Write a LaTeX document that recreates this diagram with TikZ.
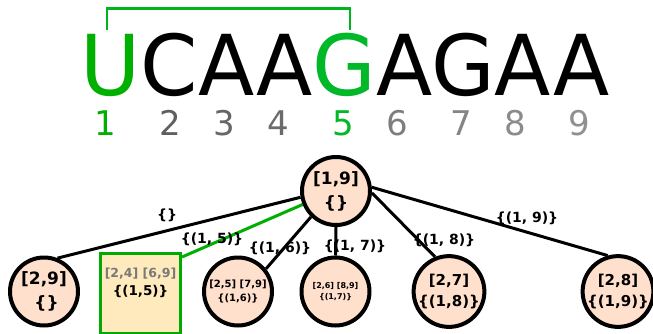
\documentclass[tikz,border=0pt]{standalone}
\usepackage{fontspec}
\setmainfont{DejaVu Sans}
\usetikzlibrary{backgrounds}

\definecolor{greenU}{RGB}{0,176,0}
\definecolor{greenG}{RGB}{0,184,40}
\definecolor{pairgreen}{RGB}{0,180,30}
\definecolor{sqgreen}{RGB}{0,170,0}
\definecolor{peach}{RGB}{255,224,204}
\definecolor{sqfill}{RGB}{255,234,190}
\definecolor{sqgray}{RGB}{120,120,120}
\definecolor{gr2}{RGB}{95,95,95}
\definecolor{gr3}{RGB}{102,102,102}
\definecolor{gr4}{RGB}{107,107,107}
\definecolor{gr6}{RGB}{126,126,126}
\definecolor{gr7}{RGB}{133,133,133}
\definecolor{gr8}{RGB}{139,139,139}
\definecolor{gr9}{RGB}{144,144,144}

\begin{document}
\begin{tikzpicture}[x=1pt,y=-1pt,
  state/.style={circle,draw,line width=4pt,fill=peach,minimum size=68pt,
    inner sep=0pt,align=center},
  big/.style={font=\fontsize{17}{24}\selectfont\bfseries},
  mid/.style={font=\fontsize{15}{21}\selectfont\bfseries},
  small/.style={font=\fontsize{10}{14}\selectfont\bfseries},
  tiny/.style={font=\fontsize{8}{11}\selectfont\bfseries},
  edgelbl/.style={font=\fontsize{14}{16}\selectfont\bfseries,inner sep=0pt},
  link/.style={line width=3pt},
  seqnum/.style={anchor=base,inner sep=0pt,font=\fontsize{34}{34}\selectfont},
  bracket/.style={draw=pairgreen,line width=2.5pt}]
\useasboundingbox (0,0) rectangle (653,333);

% sequence and positions
\node[anchor=base,inner sep=0pt,font=\fontsize{84}{84}\selectfont] (seq) at (345,95)
  {\scalebox{0.978}[1]{\textcolor{greenU}{U}CAA\textcolor{greenG}{G}AGAA}};
\node[seqnum,text=greenU] (n1) at (105,135) {1};
\node[seqnum,text=gr2]    (n2) at (170,135) {2};
\node[seqnum,text=gr3]    (n3) at (224,135) {3};
\node[seqnum,text=gr4]    (n4) at (278,135) {4};
\node[seqnum,text=greenG] (n5) at (343,135) {5};
\node[seqnum,text=gr6]    (n6) at (397,135) {6};
\node[seqnum,text=gr7]    (n7) at (461,135) {7};
\node[seqnum,text=gr8]    (n8) at (515,135) {8};
\node[seqnum,text=gr9]    (n9) at (579,135) {9};

% base pair 1-5
\draw[bracket] (107,30) |- (350,8.5) -- (350,30);

% tree
\node[state,big]   (root) at (336,191) {[1,9]\\\{\}};
\node[state,big]   (c29)  at (44,291.5) {[2,9]\\\hspace*{5pt}\{\}};
\node[rectangle,draw=sqgreen,line width=3pt,fill=sqfill,minimum width=80pt,
  minimum height=80pt,inner sep=0pt] (sq) at (140.5,293.5) {};
\node[align=center,inner sep=0pt,font=\fontsize{12.5}{18}\selectfont\bfseries]
  (sqtext) at (140.5,283)
  {\textcolor{sqgray}{[2,4] [6,9]}\\{\fontsize{13.5}{18}\selectfont\{(1,5)\}}};
\node[state,small] (c25)  at (238,291.5) {[2,5] [7,9]\\\{(1,6)\}};
\node[state,tiny]  (c26)  at (335.5,291.5) {[2,6] [8,9]\\\{(1,7)\}};
\node[state,mid]   (c27)  at (449,291.5) {[2,7]\\\{(1,8)\}};
\node[state,mid]   (c28)  at (618,291.5) {[2,8]\\\{(1,9)\}};

\begin{scope}[on background layer]
  \draw[link] (root.190) -- (c29.68);
  \draw[link,draw=greenU] (root.202) -- ([yshift=-5pt]sq.north east);
  \draw[link] (root.226) -- (c25.39);
  \draw[link] (root.south) -- (c26.north);
  \draw[link] (root.-3) -- (c27.112);
  \draw[link] (root.6) -- (c28.106);
\end{scope}

% edge labels
\node[edgelbl] (l29) at (167,215) {\{\}};
\node[edgelbl] (l15) at (212,239) {\{(1, 5)\}};
\node[edgelbl] (l16) at (280,248) {\{(1, 6)\}};
\node[edgelbl] (l17) at (355,246) {\{(1, 7)\}};
\node[edgelbl] (l18) at (444,240) {\{(1, 8)\}};
\node[edgelbl] (l19) at (527,218) {\{(1, 9)\}};
\end{tikzpicture}
\end{document}
